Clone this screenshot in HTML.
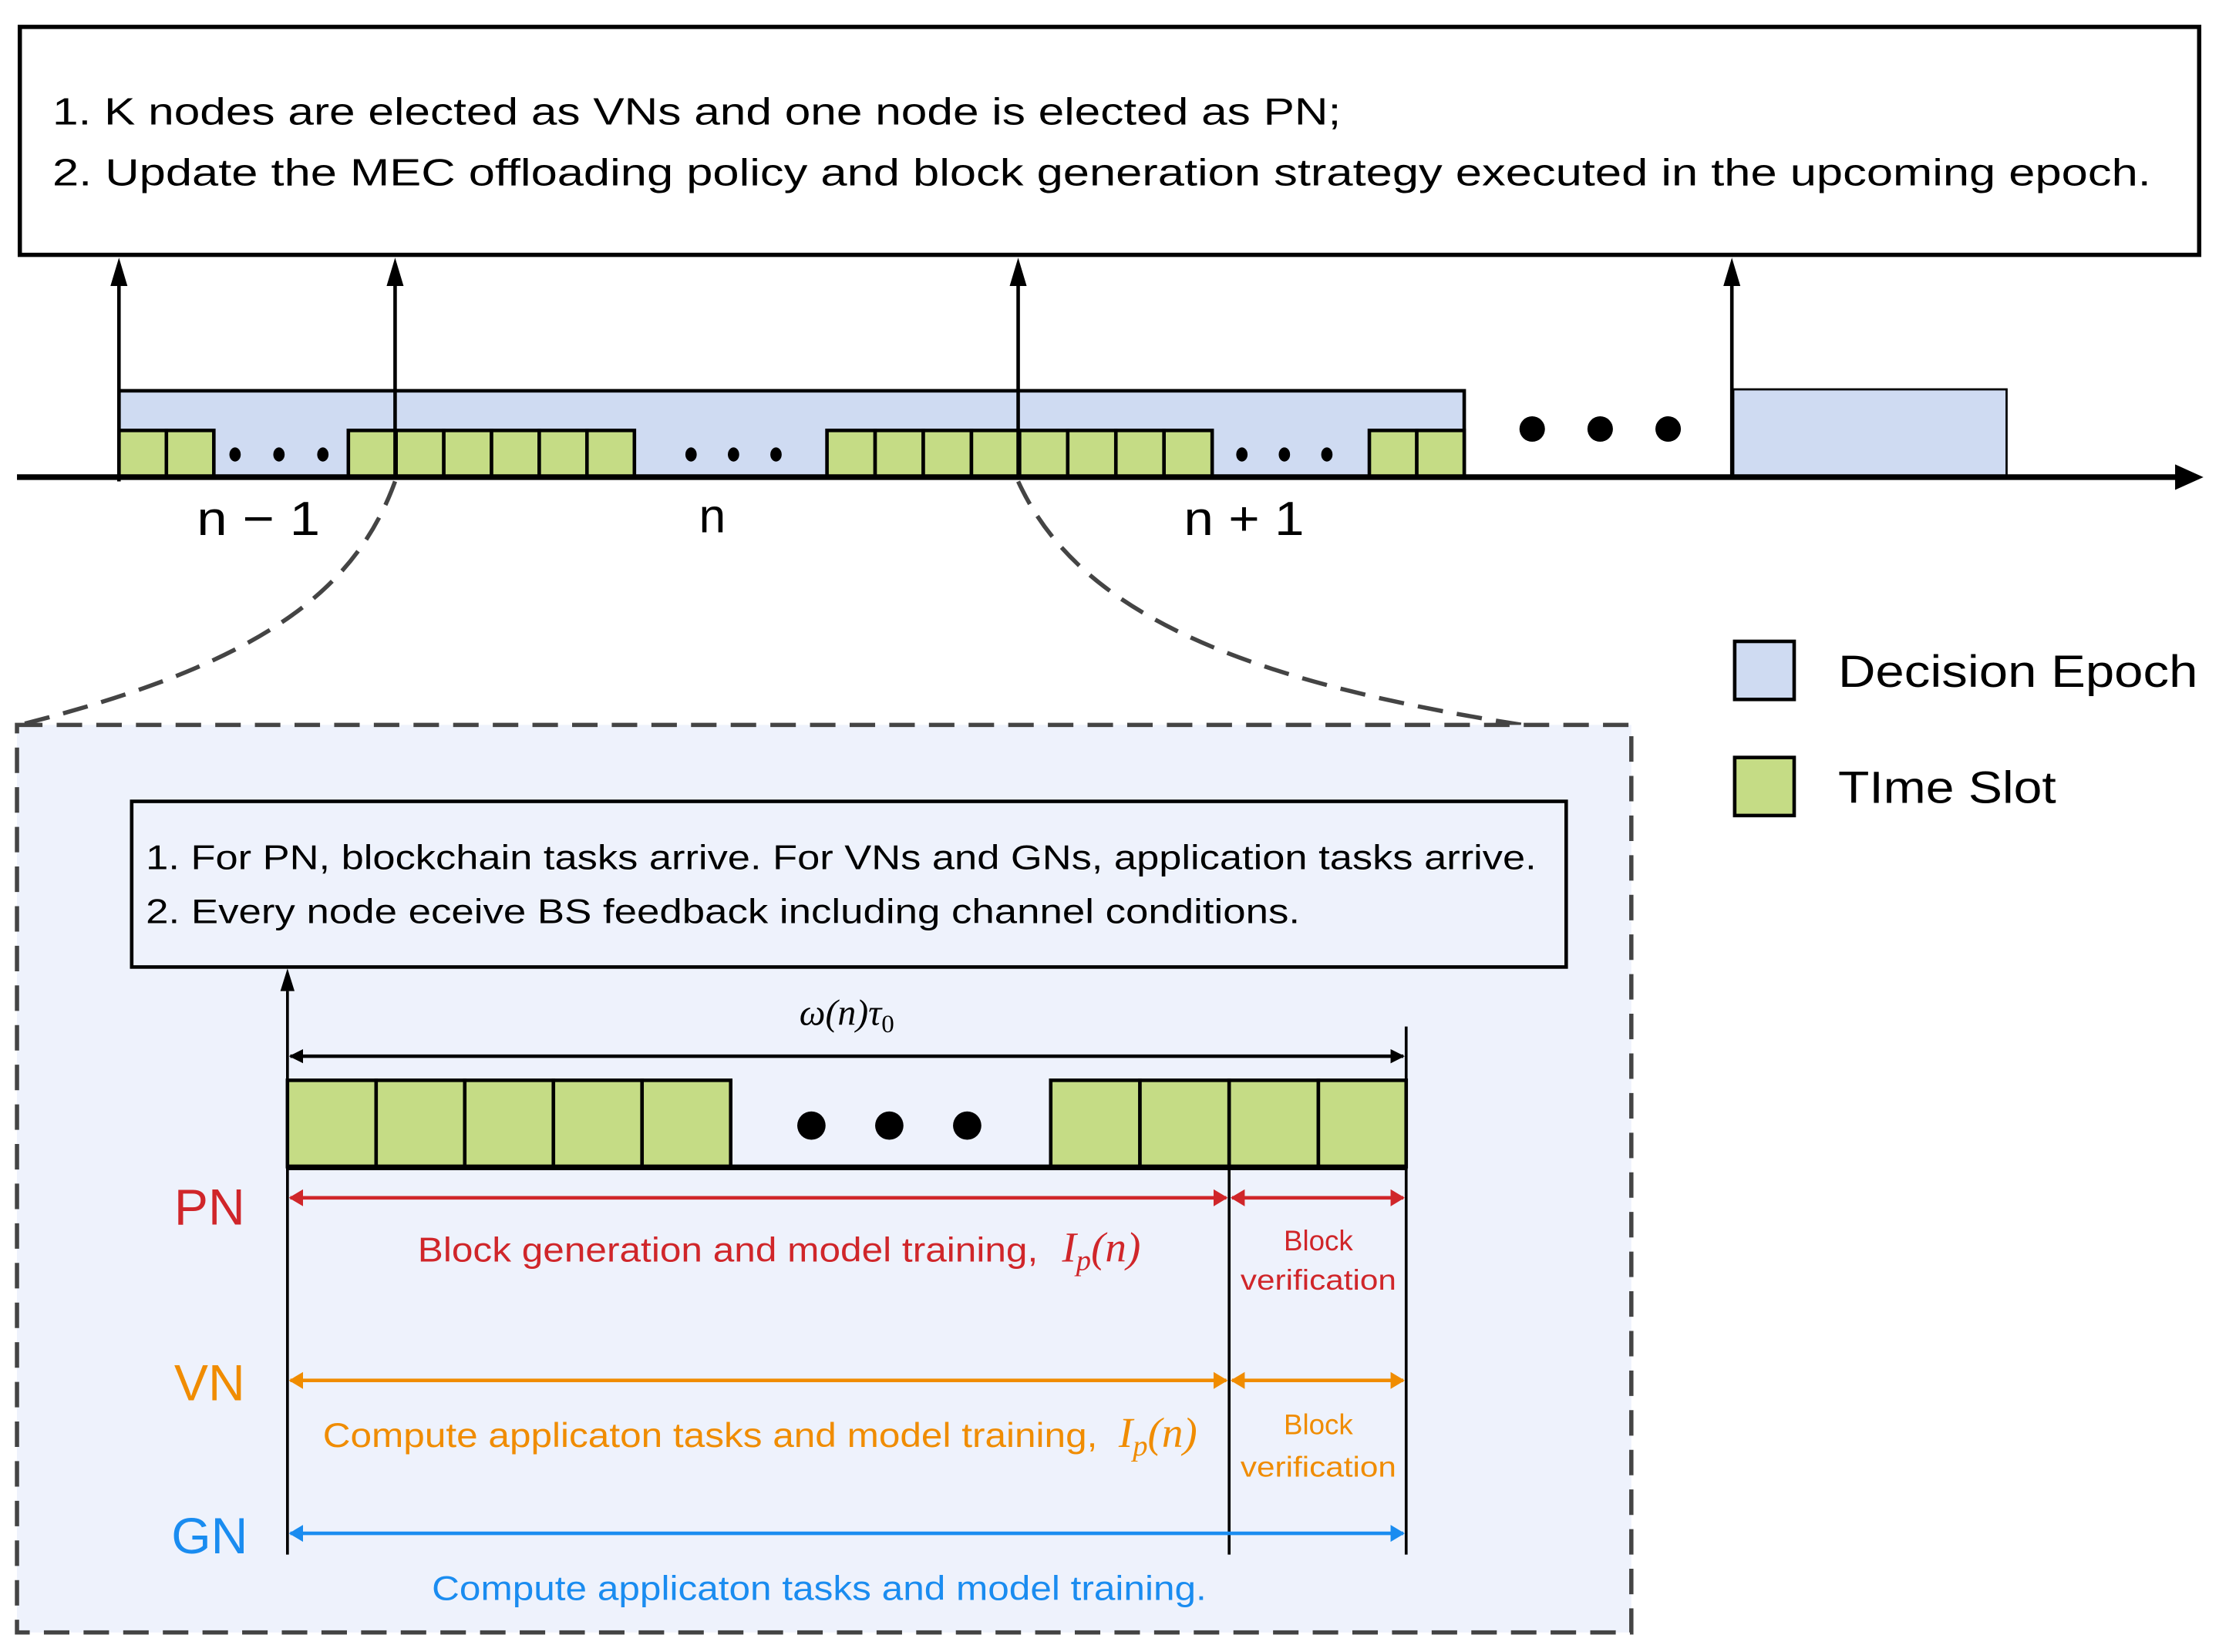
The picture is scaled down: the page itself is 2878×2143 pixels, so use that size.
<!DOCTYPE html>
<html><head><meta charset="utf-8"><style>
html,body{margin:0;padding:0;background:#fff;}
svg{display:block;}
text{font-family:"Liberation Sans","DejaVu Sans",sans-serif;}
.m{font-family:"Liberation Serif",serif;font-style:italic;}
</style></head><body>
<svg width="2878" height="2143" viewBox="0 0 1567 1166.8" preserveAspectRatio="none" xmlns="http://www.w3.org/2000/svg">
<defs>
<marker id="ab" markerWidth="10" markerHeight="10" refX="9" refY="5" orient="auto-start-reverse" markerUnits="userSpaceOnUse"><path d="M0,0 L10,5 L0,10 z" fill="#000"/></marker>
<marker id="ar" markerWidth="10" markerHeight="12" refX="9" refY="6" orient="auto-start-reverse" markerUnits="userSpaceOnUse"><path d="M0,0 L10,6 L0,12 z" fill="#d0262a"/></marker>
<marker id="ao" markerWidth="10" markerHeight="12" refX="9" refY="6" orient="auto-start-reverse" markerUnits="userSpaceOnUse"><path d="M0,0 L10,6 L0,12 z" fill="#f08c00"/></marker>
<marker id="ag" markerWidth="10" markerHeight="12" refX="9" refY="6" orient="auto-start-reverse" markerUnits="userSpaceOnUse"><path d="M0,0 L10,6 L0,12 z" fill="#1a8cf0"/></marker>
</defs>
<rect x="14" y="19" width="1539" height="161" fill="#fff" stroke="#000" stroke-width="3"/>
<text x="37" y="88" font-size="27" textLength="910" lengthAdjust="spacingAndGlyphs">1.  K nodes are elected as VNs and one node is elected as PN;</text>
<text x="37" y="131" font-size="27" textLength="1482" lengthAdjust="spacingAndGlyphs">2.  Update the MEC offloading policy and block generation strategy executed in the upcoming epoch.</text>
<rect x="84" y="276" width="950" height="61" fill="#cfdbf2" stroke="#000" stroke-width="2.5"/>
<rect x="1224" y="275" width="193" height="62" fill="#cfdbf2" stroke="#000" stroke-width="1.5"/>
<g fill="#c5dc85" stroke="#000" stroke-width="2.5">
<rect x="84" y="304" width="33.5" height="33"/><rect x="117.5" y="304" width="33.5" height="33"/>
<rect x="246" y="304" width="33.7" height="33"/><rect x="279.7" y="304" width="33.7" height="33"/><rect x="313.4" y="304" width="33.7" height="33"/><rect x="347.1" y="304" width="33.7" height="33"/><rect x="380.8" y="304" width="33.7" height="33"/><rect x="414.5" y="304" width="33.5" height="33"/>
<rect x="584" y="304" width="34" height="33"/><rect x="618" y="304" width="34" height="33"/><rect x="652" y="304" width="34" height="33"/><rect x="686" y="304" width="34" height="33"/><rect x="720" y="304" width="34" height="33"/><rect x="754" y="304" width="34" height="33"/><rect x="788" y="304" width="34" height="33"/><rect x="822" y="304" width="34" height="33"/>
<rect x="967" y="304" width="33.5" height="33"/><rect x="1000.5" y="304" width="33.5" height="33"/>
</g>
<g fill="#000">
<ellipse cx="166" cy="321" rx="4" ry="5"/><ellipse cx="197" cy="321" rx="4" ry="5"/><ellipse cx="228" cy="321" rx="4" ry="5"/>
<ellipse cx="488" cy="321" rx="4" ry="5"/><ellipse cx="518" cy="321" rx="4" ry="5"/><ellipse cx="548" cy="321" rx="4" ry="5"/>
<ellipse cx="877" cy="321" rx="4" ry="5"/><ellipse cx="907" cy="321" rx="4" ry="5"/><ellipse cx="937" cy="321" rx="4" ry="5"/>
<circle cx="1082" cy="303" r="9"/><circle cx="1130" cy="303" r="9"/><circle cx="1178" cy="303" r="9"/>
</g>
<line x1="12" y1="337" x2="1542" y2="337" stroke="#000" stroke-width="4"/>
<path d="M1536,328 L1556,337 L1536,346 z" fill="#000"/>
<g stroke="#000" stroke-width="2.5">
<line x1="84" y1="340" x2="84" y2="200"/><line x1="279" y1="337" x2="279" y2="200"/><line x1="719" y1="337" x2="719" y2="200"/><line x1="1223" y1="337" x2="1223" y2="200"/>
</g>
<g fill="#000">
<path d="M84,182 L90,202 L78,202 z"/><path d="M279,182 L285,202 L273,202 z"/><path d="M719,182 L725,202 L713,202 z"/><path d="M1223,182 L1229,202 L1217,202 z"/>
</g>
<text x="139" y="378" font-size="34" textLength="87" lengthAdjust="spacingAndGlyphs">n − 1</text>
<text x="503" y="376" font-size="34" text-anchor="middle">n</text>
<text x="836" y="378" font-size="34" textLength="85" lengthAdjust="spacingAndGlyphs">n + 1</text>
<path d="M279,340 C250,420 180,470 14,512" fill="none" stroke="#444" stroke-width="3" stroke-dasharray="18,10"/>
<path d="M719,340 C760,430 870,480 1075,512" fill="none" stroke="#444" stroke-width="3" stroke-dasharray="18,10"/>
<rect x="1225" y="453" width="42" height="41" fill="#cfdbf2" stroke="#000" stroke-width="2.5"/>
<text x="1298" y="485" font-size="32" textLength="254" lengthAdjust="spacingAndGlyphs">Decision Epoch</text>
<rect x="1225" y="535" width="42" height="41" fill="#c5dc85" stroke="#000" stroke-width="2.5"/>
<text x="1298" y="567" font-size="32" textLength="154" lengthAdjust="spacingAndGlyphs">TIme Slot</text>
<rect x="12" y="512" width="1140" height="641" fill="#eef2fc" stroke="#444" stroke-width="3" stroke-dasharray="18,10"/>
<rect x="93" y="566" width="1013" height="117" fill="#eef2fc" stroke="#000" stroke-width="2.5"/>
<text x="103" y="614" font-size="24" textLength="982" lengthAdjust="spacingAndGlyphs">1. For PN, blockchain tasks arrive. For VNs and GNs, application tasks arrive.</text>
<text x="103" y="652" font-size="24" textLength="815" lengthAdjust="spacingAndGlyphs">2. Every node eceive BS feedback including channel conditions.</text>
<line x1="203" y1="1098" x2="203" y2="700" stroke="#000" stroke-width="2"/>
<path d="M203,684 L208,700 L198,700 z" fill="#000"/>
<text x="598" y="724" font-size="26" text-anchor="middle" class="m">ω(n)τ<tspan font-size="18" dy="5" font-style="normal">0</tspan></text>
<line x1="993" y1="725" x2="993" y2="1098" stroke="#000" stroke-width="2"/>
<line x1="205" y1="746" x2="991" y2="746" stroke="#000" stroke-width="2.5" marker-start="url(#ab)" marker-end="url(#ab)"/>
<g fill="#c5dc85" stroke="#000" stroke-width="2.5">
<rect x="203" y="763" width="62.6" height="61"/><rect x="265.6" y="763" width="62.6" height="61"/><rect x="328.2" y="763" width="62.6" height="61"/><rect x="390.8" y="763" width="62.6" height="61"/><rect x="453.4" y="763" width="62.6" height="61"/>
<rect x="742" y="763" width="63" height="61"/><rect x="805" y="763" width="63" height="61"/><rect x="868" y="763" width="63" height="61"/><rect x="931" y="763" width="62" height="61"/>
</g>
<line x1="203" y1="824.5" x2="994" y2="824.5" stroke="#000" stroke-width="4"/>
<circle cx="573" cy="795" r="10" fill="#000"/><circle cx="628" cy="795" r="10" fill="#000"/><circle cx="683" cy="795" r="10" fill="#000"/>
<line x1="868" y1="824" x2="868" y2="1098" stroke="#000" stroke-width="2"/>
<text x="148" y="865" font-size="36" fill="#d0262a" text-anchor="middle">PN</text>
<line x1="205" y1="846" x2="866" y2="846" stroke="#d0262a" stroke-width="2.5" marker-start="url(#ar)" marker-end="url(#ar)"/>
<line x1="870" y1="846" x2="991" y2="846" stroke="#d0262a" stroke-width="2.5" marker-start="url(#ar)" marker-end="url(#ar)"/>
<text x="295" y="891" font-size="24" fill="#d0262a" textLength="438" lengthAdjust="spacingAndGlyphs">Block generation and model training,</text>
<text x="750" y="891" font-size="30" fill="#d0262a" class="m">I<tspan font-size="21" dy="6">p</tspan><tspan dy="-6">(n)</tspan></text>
<text x="931" y="883" font-size="20" fill="#d0262a" text-anchor="middle">Block</text>
<text x="876" y="911" font-size="20" fill="#d0262a" textLength="110" lengthAdjust="spacingAndGlyphs">verification</text>
<text x="148" y="989" font-size="36" fill="#f08c00" text-anchor="middle">VN</text>
<line x1="205" y1="975" x2="866" y2="975" stroke="#f08c00" stroke-width="2.5" marker-start="url(#ao)" marker-end="url(#ao)"/>
<line x1="870" y1="975" x2="991" y2="975" stroke="#f08c00" stroke-width="2.5" marker-start="url(#ao)" marker-end="url(#ao)"/>
<text x="228" y="1022" font-size="24" fill="#f08c00" textLength="547" lengthAdjust="spacingAndGlyphs">Compute applicaton tasks and model training,</text>
<text x="790" y="1022" font-size="30" fill="#f08c00" class="m">I<tspan font-size="21" dy="6">p</tspan><tspan dy="-6">(n)</tspan></text>
<text x="931" y="1013" font-size="20" fill="#f08c00" text-anchor="middle">Block</text>
<text x="876" y="1043" font-size="20" fill="#f08c00" textLength="110" lengthAdjust="spacingAndGlyphs">verification</text>
<text x="148" y="1097" font-size="36" fill="#1a8cf0" text-anchor="middle">GN</text>
<line x1="205" y1="1083" x2="991" y2="1083" stroke="#1a8cf0" stroke-width="2.5" marker-start="url(#ag)" marker-end="url(#ag)"/>
<text x="305" y="1130" font-size="24" fill="#1a8cf0" textLength="547" lengthAdjust="spacingAndGlyphs">Compute applicaton tasks and model training.</text>
</svg>
</body></html>
